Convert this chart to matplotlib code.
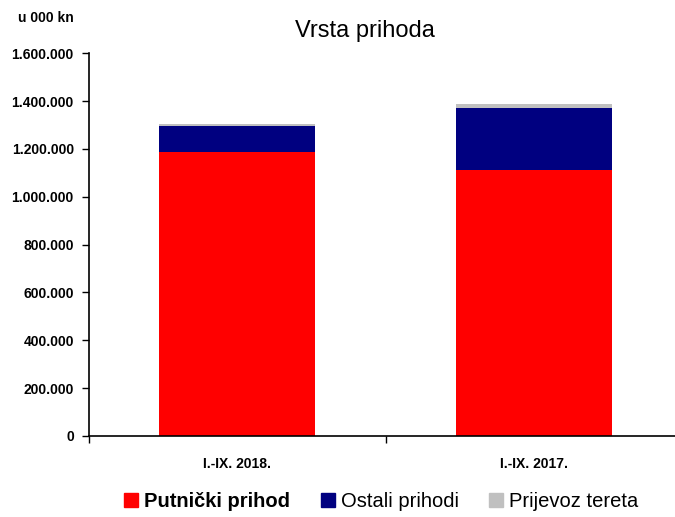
import matplotlib
matplotlib.use("Agg")
import matplotlib.pyplot as plt
from matplotlib.ticker import FuncFormatter
from matplotlib.patches import Patch

# data (u 000 kn)
categories = ["I.-IX. 2018.", "I.-IX. 2017."]
putnicki = [1185000, 1111000]
ostali = [110000, 262000]
teret = [11000, 14000]
series_names = ["Putnički prihod", "Ostali prihodi", "Prijevoz tereta"]
colors = ["#FF0000", "#000080", "#C0C0C0"]

plt.rcParams['font.family'] = ['Liberation Sans Narrow', 'Liberation Sans', 'DejaVu Sans']

fig = plt.figure(figsize=(6.75, 5.17), dpi=100)
ax = fig.add_axes([0.132, 0.157, 0.879, 0.74])

x = [0, 1]
bottom2 = [a + b for a, b in zip(putnicki, ostali)]
ax.bar(x, putnicki, width=0.526, color=colors[0], zorder=2)
ax.bar(x, ostali, width=0.526, bottom=putnicki, color=colors[1], zorder=2)
ax.bar(x, teret, width=0.526, bottom=bottom2, color=colors[2], zorder=2)

ax.set_xlim(-0.5, 1.5)
ax.set_ylim(0, 1600000)
ax.set_yticks(range(0, 1600001, 200000))
ax.yaxis.set_major_formatter(FuncFormatter(lambda v, p: f"{int(v):,}".replace(",", ".")))
ax.set_xticks(x)
ax.set_xticklabels(categories)
ax.set_xticks([-0.5, 0.5, 1.5], minor=True)
ax.tick_params(axis='x', which='major', length=0, pad=15, labelsize=10)
ax.tick_params(axis='x', which='minor', length=5, width=1, direction='out')
ax.tick_params(axis='y', length=5, width=1, labelsize=10, pad=6)
for lbl in ax.get_yticklabels() + ax.get_xticklabels():
    lbl.set_fontweight('bold')

ax.spines['top'].set_visible(False)
ax.spines['right'].set_visible(False)
ax.spines['left'].set_linewidth(1.2)
ax.spines['bottom'].set_linewidth(1.2)

fig.text(0.54, 0.94, "Vrsta prihoda", ha='center', va='center', fontsize=17)
fig.text(0.027, 0.965, "u 000 kn", ha='left', va='center', fontsize=10, fontweight='bold')

handles = [Patch(color=c) for c in colors]
leg = fig.legend(handles, series_names, loc='center', bbox_to_anchor=(0.565, 0.03),
                 ncol=3, frameon=False, fontsize=14.5, handlelength=0.7, handleheight=0.7,
                 handletextpad=0.3, columnspacing=1.5)
leg.get_texts()[0].set_fontweight('bold')

fig.savefig("out.png", dpi=100)
